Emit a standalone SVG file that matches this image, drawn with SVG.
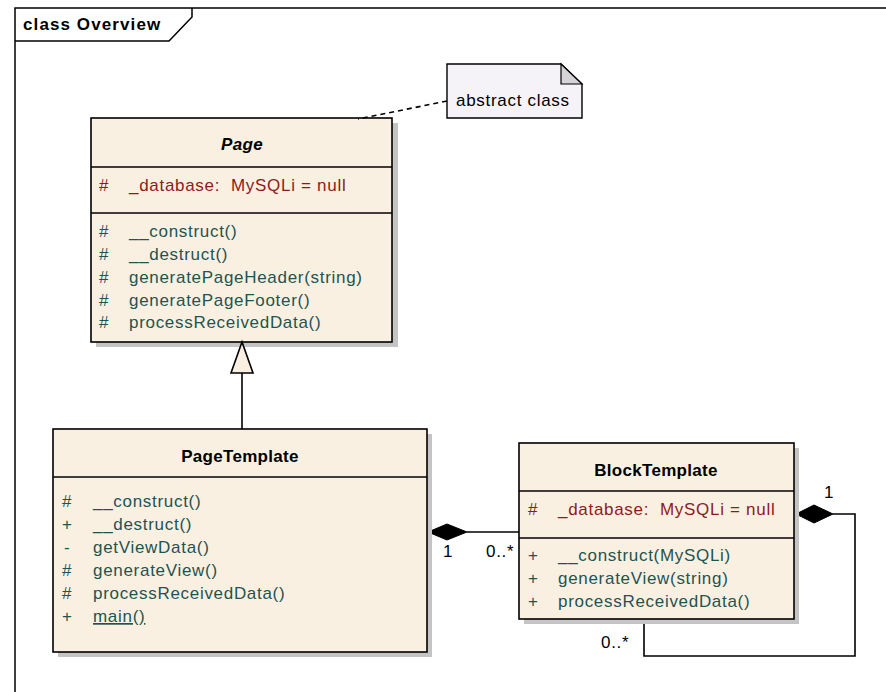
<svg xmlns="http://www.w3.org/2000/svg" width="886" height="692" viewBox="0 0 886 692">
<defs>
<style>
text{font-family:"Liberation Sans",Arial,sans-serif;font-size:17px;letter-spacing:0.7px;white-space:pre;}
.box{fill:#FAF0E2;stroke:#000;stroke-width:1.6;}
.shadow{fill:#C4C4C4;}
.div{stroke:#000;stroke-width:1.4;}
.title{font-weight:bold;text-anchor:middle;letter-spacing:0.3px;}
.attr{fill:#8E1B1B;}
.op{fill:#1F5450;}
.lbl{fill:#000;}
.conn{fill:none;stroke:#000;stroke-width:1.6;}
.diamond{fill:#000;stroke:#000;stroke-width:1;}
</style>
</defs>
<rect width="886" height="692" fill="#fff"/>
<g id="frame">
<rect x="15" y="8" width="900" height="720" fill="none" stroke="#000" stroke-width="1.5"/>
<path d="M15,41 H169 L192,17 V8" fill="none" stroke="#000" stroke-width="1.5"/>
<text x="23" y="30" style="font-weight:bold;letter-spacing:1.1px">class Overview</text>
</g>
<g id="Page">
<rect class="shadow" x="96" y="123" width="302" height="224"/>
<rect class="box" x="91" y="118" width="301" height="224"/>
<line class="div" x1="91" y1="167" x2="392" y2="167"/>
<line class="div" x1="91" y1="213" x2="392" y2="213"/>
<text class="title" x="242" y="150" font-style="italic">Page</text>
<text class="attr" x="99" y="191">#</text>
<text class="attr" x="129" y="191" xml:space="preserve">_database:  MySQLi = null</text>
<g class="op">
<text x="99" y="237">#</text><text x="129" y="237">__construct()</text>
<text x="99" y="260">#</text><text x="129" y="260">__destruct()</text>
<text x="99" y="283">#</text><text x="129" y="283">generatePageHeader(string)</text>
<text x="99" y="306">#</text><text x="129" y="306">generatePageFooter()</text>
<text x="99" y="328">#</text><text x="129" y="328">processReceivedData()</text>
</g>
</g>
<g id="connectors">
<path class="conn" d="M447,101 L358,119" stroke-dasharray="5,4"/>
<line class="conn" x1="242" y1="373" x2="242" y2="429"/>
<polygon points="242,342 231,373 253,373" fill="#FAF0E2" stroke="#000" stroke-width="1.6"/>
<line class="conn" x1="467" y1="532" x2="519" y2="532"/>
<polygon class="diamond" points="428,532 447,524 467,532 447,540"/>
<text class="lbl" x="443" y="557">1</text>
<text class="lbl" x="486" y="557">0..*</text>
<path class="conn" d="M833,514 H855 V656 H644 V619"/>
<polygon class="diamond" points="796,514 814,505 833,514 814,523"/>
<text class="lbl" x="824" y="498">1</text>
<text class="lbl" x="601" y="648">0..*</text>
</g>
<g id="note">
<path d="M447,64 H561 L582,84 V118 H447 Z" fill="#F6F3F8" stroke="#000" stroke-width="1.4"/>
<path d="M561,64 V84 H582 Z" fill="#D6D3D6" stroke="#000" stroke-width="1.2"/>
<text x="456" y="106">abstract class</text>
</g>
<g id="PageTemplate">
<rect class="shadow" x="58" y="434" width="374" height="223"/>
<rect class="box" x="53" y="429" width="374" height="223"/>
<line class="div" x1="53" y1="477" x2="427" y2="477"/>
<text class="title" x="240" y="462">PageTemplate</text>
<g class="op">
<text x="62" y="507">#</text><text x="93" y="507">__construct()</text>
<text x="62" y="530">+</text><text x="93" y="530">__destruct()</text>
<text x="64" y="553">-</text><text x="93" y="553">getViewData()</text>
<text x="62" y="576">#</text><text x="93" y="576">generateView()</text>
<text x="62" y="599">#</text><text x="93" y="599">processReceivedData()</text>
<text x="62" y="622">+</text><text x="93" y="622" text-decoration="underline">main()</text>
</g>
</g>
<g id="BlockTemplate">
<rect class="shadow" x="524" y="448" width="275" height="176"/>
<rect class="box" x="519" y="443" width="275" height="176"/>
<line class="div" x1="519" y1="491" x2="794" y2="491"/>
<line class="div" x1="519" y1="538" x2="794" y2="538"/>
<text class="title" x="656" y="476">BlockTemplate</text>
<text class="attr" x="528" y="515">#</text>
<text class="attr" x="558" y="515" xml:space="preserve">_database:  MySQLi = null</text>
<g class="op">
<text x="528" y="561">+</text><text x="558" y="561">__construct(MySQLi)</text>
<text x="528" y="584">+</text><text x="558" y="584">generateView(string)</text>
<text x="528" y="607">+</text><text x="558" y="607">processReceivedData()</text>
</g>
</g>
</svg>
